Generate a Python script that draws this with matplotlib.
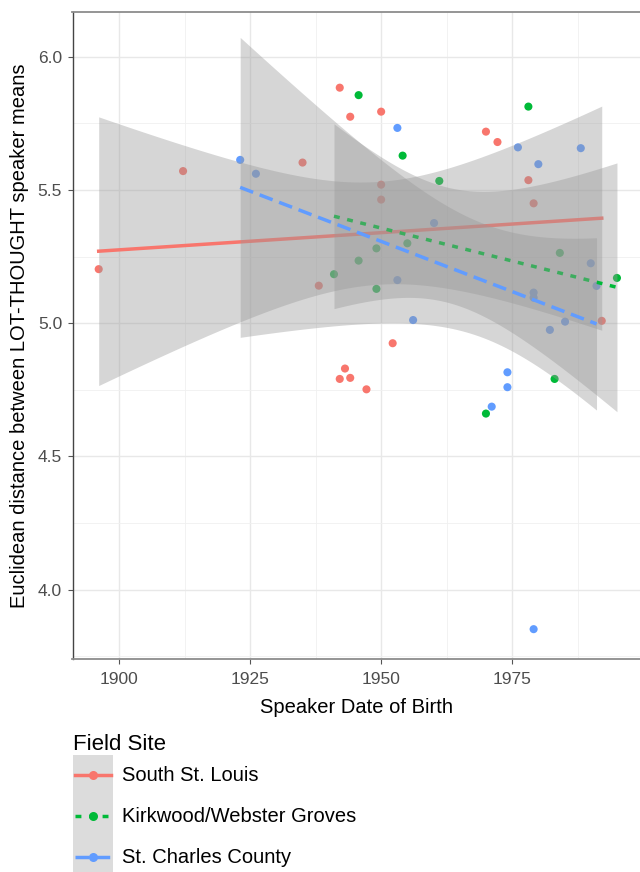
import numpy as np
import matplotlib
matplotlib.use("Agg")
import matplotlib.pyplot as plt
from matplotlib.lines import Line2D
from matplotlib.patches import Rectangle

plt.rcParams['font.family'] = ['Liberation Sans', 'DejaVu Sans']

# datos (ano de nacimiento, distancia euclidiana)
sites = ['South St. Louis', 'Kirkwood/Webster Groves', 'St. Charles County']
colors = ['#F8766D', '#00BA38', '#619CFF']

south_x = [1896.1, 1912.2, 1935.0, 1938.1, 1942.1, 1944.1, 1950.0, 1950.0, 1950.0, 1970.0,
           1972.2, 1978.1, 1979.1, 1992.1, 1943.1, 1942.1, 1944.1, 1952.2, 1947.2]
south_y = [5.203, 5.571, 5.603, 5.141, 5.884, 5.775, 5.794, 5.520, 5.464, 5.719,
           5.680, 5.537, 5.450, 5.009, 4.830, 4.791, 4.795, 4.925, 4.752]

kirk_x = [1941.0, 1945.7, 1945.7, 1954.1, 1961.1, 1949.1, 1949.1, 1955.0, 1978.1,
          1984.1, 1995.0, 1970.0, 1983.1]
kirk_y = [5.184, 5.856, 5.235, 5.629, 5.534, 5.281, 5.129, 5.300, 5.813,
          5.264, 5.170, 4.661, 4.791]

charles_x = [1923.1, 1926.1, 1953.1, 1960.1, 1953.1, 1956.1, 1976.1, 1980.0, 1988.1, 1990.0,
             1991.1, 1979.1, 1979.1, 1985.1, 1982.2, 1974.1, 1974.1, 1971.1, 1979.1]
charles_y = [5.613, 5.561, 5.733, 5.376, 5.162, 5.012, 5.660, 5.597, 5.657, 5.225,
             5.140, 5.115, 5.096, 5.006, 4.975, 4.816, 4.760, 4.687, 3.852]

groups = [(south_x, south_y), (kirk_x, kirk_y), (charles_x, charles_y)]
line_styles = ['-', (0, (1.7, 2.2)), (0, (4, 2))]
t_crit = {11: 2.201, 17: 2.110}  # t 0.975


def lm_fit(x, y, n=80):
    x = np.asarray(x)
    y = np.asarray(y)
    b, a = np.polyfit(x, y, 1)
    res = y - (a + b * x)
    df = len(x) - 2
    s = np.sqrt(np.sum(res ** 2) / df)
    xs = np.linspace(x.min(), x.max(), n)
    se = s * np.sqrt(1 / len(x) + (xs - x.mean()) ** 2 / np.sum((x - x.mean()) ** 2))
    fit = a + b * xs
    t = t_crit[df]
    return xs, fit, fit - t * se, fit + t * se


fig = plt.figure(figsize=(6.4, 8.72), dpi=100)
ax = fig.add_axes([72.5 / 640, 1 - 659 / 872, 1 - 72.5 / 640, 647 / 872])

# puntos primero (quedan debajo de las bandas)
for (gx, gy), c in zip(groups, colors):
    ax.scatter(gx, gy, s=34, color=c, edgecolors='none', zorder=2)

# bandas y lineas de regresion
z = 3
for (gx, gy), c, ls in zip(groups, colors, line_styles):
    xs, fit, lo, hi = lm_fit(gx, gy)
    ax.fill_between(xs, lo, hi, color='#999999', alpha=0.4, linewidth=0, zorder=z)
    ax.plot(xs, fit, color=c, linestyle=ls, linewidth=2.5, dash_capstyle='butt',
            zorder=z + 0.5)
    z += 1

ax.set_xlim(1891.1, 1999.4)
ax.set_ylim(3.740, 6.168)
ax.set_xticks([1900, 1925, 1950, 1975])
ax.set_yticks([4.0, 4.5, 5.0, 5.5, 6.0])
ax.set_yticklabels(['4.0', '4.5', '5.0', '5.5', '6.0'])
ax.set_xticks([1912.5, 1937.5, 1962.5, 1987.5], minor=True)
ax.set_yticks([3.75, 4.25, 4.75, 5.25, 5.75], minor=True)
ax.grid(True, which='major', color='#E8E8E8', linewidth=1.0, zorder=0)
ax.grid(True, which='minor', color='#F0F0F0', linewidth=0.6, zorder=0)
ax.set_axisbelow(True)
ax.tick_params(which='major', length=3.5, width=0.8, color='#555555',
               labelsize=12.5, labelcolor='#4D4D4D')
ax.tick_params(axis='x', pad=6)
ax.tick_params(axis='y', pad=4)
ax.tick_params(which='minor', length=0)
for side in ['top', 'bottom']:
    ax.spines[side].set_color('#8C8C8C')
    ax.spines[side].set_linewidth(1.3)
ax.spines['left'].set_color('#444444')
ax.spines['left'].set_linewidth(1.0)
ax.spines['right'].set_visible(False)

ax.set_xlabel('Speaker Date of Birth', fontsize=14.5, labelpad=8)
ax.set_ylabel('Euclidean distance between LOT-THOUGHT speaker means', fontsize=14.5,
              labelpad=6)

# leyenda dibujada a mano
fig.text(73 / 640, 1 - 745 / 872, 'Field Site', fontsize=16, va='center', ha='left')
fig.patches.append(Rectangle((73 / 640, 0), 40 / 640, 1 - 755 / 872,
                             transform=fig.transFigure, facecolor='#DCDCDC',
                             edgecolor='none'))
key_y = [775, 816, 857]
for name, c, ls, ky in zip(sites, colors, line_styles, key_y):
    yy = 1 - ky / 872
    fig.lines.append(Line2D([75 / 640, 111 / 640], [yy, yy], transform=fig.transFigure,
                            color=c, linestyle=ls, linewidth=2.5, dash_capstyle='butt'))
    fig.lines.append(Line2D([93 / 640], [yy], transform=fig.transFigure, marker='o',
                            markersize=6.5, color=c, markeredgewidth=0))
    fig.text(122 / 640, yy, name, fontsize=14.5, va='center', ha='left')

fig.savefig('out.png', dpi=100)
